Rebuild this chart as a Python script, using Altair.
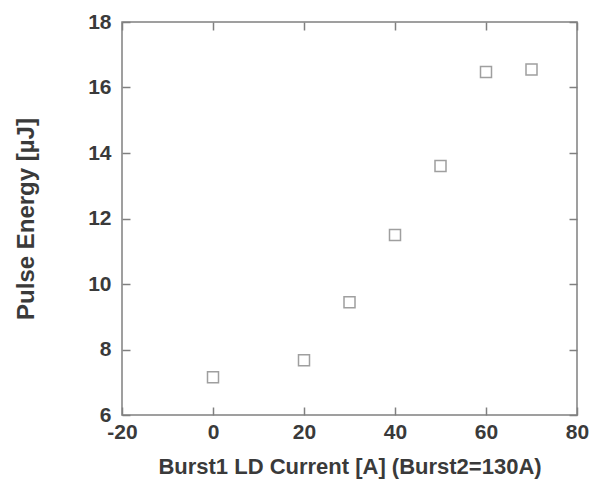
import altair as alt
import pandas as pd

current = [0, 20, 30, 40, 50, 60, 70]
energy = [7.15, 7.67, 9.44, 11.5, 13.6, 16.47, 16.55]
x_ticks = [-20, 0, 20, 40, 60, 80]
y_ticks = [6, 8, 10, 12, 14, 16, 18]

df = pd.DataFrame({"current": current, "energy": energy})

GREY = "#808080"
TEXT = "#3a3a3a"
FONT = "Liberation Sans"

xscale = alt.Scale(domain=[-20, 80], nice=False, zero=False)
yscale = alt.Scale(domain=[6, 18], nice=False, zero=False)

base = alt.Chart(df)

points = base.mark_point(
    shape="square", filled=False, size=121, stroke="#777777", strokeWidth=1.5
).encode(
    x=alt.X("current:Q", scale=xscale,
            axis=alt.Axis(orient="bottom", values=x_ticks, title="Burst1 LD Current [A] (Burst2=130A)",
                          labelExpr="toString(datum.value)",
                          offset=-8, domain=False, tickSize=8, tickWidth=1.5, tickColor=GREY,
                          labelPadding=6, labelFontSize=21, labelFont=FONT, labelFontWeight="bold",
                          labelColor=TEXT, titleFontSize=22, titleFont=FONT, titleFontWeight="bold",
                          titleColor=TEXT, titlePadding=14, grid=False, labelFlush=False)),
    y=alt.Y("energy:Q", scale=yscale,
            axis=alt.Axis(orient="left", values=y_ticks, title="Pulse Energy [\u00b5J]",
                          offset=-8, domain=False, tickSize=8, tickWidth=1.5, tickColor=GREY,
                          labelPadding=11, labelFontSize=21, labelFont=FONT, labelFontWeight="bold",
                          labelColor=TEXT, titleFontSize=24, titleFont=FONT, titleFontWeight="bold",
                          titleColor=TEXT, titlePadding=49, grid=False, labelFlush=False)),
)

mirror = base.mark_point(opacity=0).encode(
    x=alt.X("current:Q", scale=xscale,
            axis=alt.Axis(orient="top", values=x_ticks, title=None, labels=False,
                          offset=-8, domain=False, tickSize=8, tickWidth=1.5, tickColor=GREY, grid=False)),
    y=alt.Y("energy:Q", scale=yscale,
            axis=alt.Axis(orient="right", values=y_ticks, title=None, labels=False,
                          offset=-8, domain=False, tickSize=8, tickWidth=1.5, tickColor=GREY, grid=False)),
)

chart = alt.layer(points, mirror).resolve_axis(x="independent", y="independent").properties(
    width=455,
    height=393,
    padding={"left": 122, "top": 22, "right": 29, "bottom": 71},
    autosize=alt.AutoSizeParams(type="none"),
    background="white",
).configure_view(stroke=GREY, strokeWidth=1.5)

chart.save("out.html", embed_options={"renderer": "svg", "actions": False})
